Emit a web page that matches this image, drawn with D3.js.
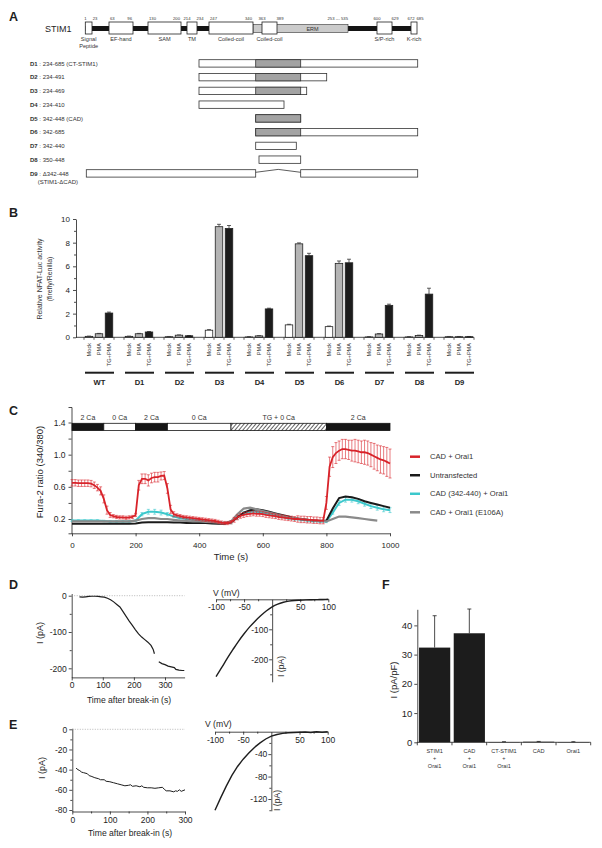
<!DOCTYPE html>
<html><head><meta charset="utf-8">
<script src="https://d3js.org/d3.v7.min.js"></script>
<style>html,body{margin:0;padding:0;background:#fff}</style>
</head><body>
<svg id="fig" width="602" height="848" xmlns="http://www.w3.org/2000/svg"></svg>
<script>
// ================= DATA =================
// Panel A – STIM1 domain map
const domainNames = ["Signal|Peptide","EF-hand","SAM","TM","Coiled-coil","Coiled-coil","S/P-rich","K-rich"];
const domainStart = [1,63,130,214,247,363,600,672];
const domainEnd   = [23,96,200,234,340,389,629,685];
const ermStart = 340, ermEnd = 535;
const ermName = "ERM", ermRangeLabel = "253 --- 535";
// Panel A – deletion constructs
const constructIds   = ["D1","D2","D3","D4","D5","D6","D7","D8","D9"];
const constructDesc  = ["234-685 (CT-STIM1)","234-491","234-469","234-410","342-448 (CAD)","342-685","342-440","350-448","\u0394342-448"];
const constructStart = [234,234,234,234,342,342,342,350,1];
const constructEnd   = [685,491,469,410,448,685,440,448,685];
const cadStart = 342, cadEnd = 448;

// Panel B – NFAT luciferase
const bGroups = ["WT","D1","D2","D3","D4","D5","D6","D7","D8","D9"];
const bConditions = ["Mock","PMA","TG+PMA"];
const bMock    = [0.08,0.08,0.05,0.60,0.03,1.05,0.90,0.03,0.03,0.05];
const bPMA     = [0.30,0.30,0.18,9.35,0.12,7.90,6.25,0.28,0.15,0.05];
const bTG      = [2.05,0.45,0.13,9.20,2.40,6.90,6.30,2.70,3.65,0.05];
const bMockErr = [0.02,0.02,0.02,0.05,0.02,0.05,0.05,0.02,0.02,0.02];
const bPMAErr  = [0.03,0.03,0.02,0.20,0.02,0.08,0.20,0.03,0.03,0.02];
const bTGErr   = [0.08,0.04,0.02,0.25,0.06,0.20,0.30,0.10,0.50,0.02];

// Panel C – Fura-2 traces
const cProtocol = [
  {label:"2 Ca", t0:0,   t1:100,  kind:"black"},
  {label:"0 Ca", t0:100, t1:200,  kind:"white"},
  {label:"2 Ca", t0:200, t1:300,  kind:"black"},
  {label:"0 Ca", t0:300, t1:500,  kind:"white"},
  {label:"TG + 0 Ca", t0:500, t1:800, kind:"hatch"},
  {label:"2 Ca", t0:800, t1:1000, kind:"black"}
];
const cTime10 = d3.range(0, 1001, 10);
const cTime20 = d3.range(0, 1001, 20);
const cRed = [0.65,0.65,0.645,0.645,0.645,0.645,0.64,
  0.62,0.59,0.55,0.45,
  0.31,0.25,
  0.235,0.225,0.22,0.22,0.215,0.22,0.225,0.25,
  0.62,0.70,
  0.70,0.68,0.71,0.72,0.72,0.735,0.74,
  0.58,0.32,0.26,
  0.245,0.235,0.225,0.22,0.215,0.21,0.205,0.20,0.195,0.19,0.185,0.18,0.175,0.165,0.155,0.15,0.15,0.16,
  0.19,0.22,0.24,0.25,0.26,0.265,0.27,0.265,0.265,0.26,
  0.25,0.245,0.24,0.235,0.225,0.22,0.215,0.21,0.205,0.20,
  0.20,0.195,0.195,0.19,0.19,0.185,0.185,0.18,0.18,
  0.40,0.85,0.97,1.02,1.05,1.07,1.07,1.06,1.05,1.05,1.04,1.03,1.03,1.02,1.00,0.98,0.96,0.94,0.93,0.91,0.89];
const cRedErr = [0.04,0.04,0.04,0.04,0.04,0.04,0.04,
  0.04,0.04,0.05,0.05,
  0.05,0.03,
  0.02,0.02,0.02,0.02,0.02,0.02,0.02,0.02,
  0.06,0.06,
  0.06,0.07,0.06,0.06,0.06,0.05,0.05,
  0.06,0.05,0.03,
  0.02,0.02,0.02,0.02,0.02,0.02,0.02,0.02,0.02,0.02,0.02,0.02,0.02,0.02,0.02,0.02,0.02,0.02,
  0.03,0.03,0.03,0.03,0.03,0.03,0.03,0.03,0.03,0.03,
  0.03,0.03,0.03,0.03,0.03,0.03,0.03,0.03,0.03,0.03,
  0.04,0.04,0.04,0.04,0.04,0.04,0.04,0.04,0.04,
  0.08,0.12,0.13,0.13,0.12,0.12,0.12,0.12,0.13,0.14,0.14,0.14,0.15,0.15,0.15,0.16,0.16,0.17,0.17,0.18,0.18];
const cBlack = [0.14,0.14,0.14,0.14,0.14,0.14,0.14,0.14,0.14,0.14,
  0.145,0.155,0.16,0.16,0.16,0.16,0.155,0.155,0.15,0.15,
  0.15,0.15,0.145,0.14,0.14,0.16,0.22,0.28,0.31,0.32,
  0.31,0.29,0.27,0.25,0.23,0.21,0.20,0.19,0.18,0.175,
  0.18,0.33,0.46,0.48,0.47,0.45,0.42,0.40,0.38,0.36,0.34];
const cCyan = [0.18,0.18,0.18,0.18,0.18,0.175,0.17,0.17,0.17,0.17,
  0.18,0.26,0.29,0.29,0.28,0.26,0.23,0.21,0.20,0.19,
  0.185,0.18,0.17,0.16,0.15,0.16,0.22,0.27,0.29,0.29,
  0.28,0.26,0.24,0.23,0.21,0.20,0.19,0.18,0.175,0.17,
  0.17,0.28,0.40,0.44,0.44,0.42,0.39,0.36,0.34,0.32,0.31];
const cCyanErr = [0.01,0.01,0.01,0.01,0.01,0.01,0.01,0.01,0.01,0.01,
  0.01,0.02,0.03,0.03,0.03,0.02,
  0.01,0.01,0.01,0.01,0.01,0.01,0.01,0.01,0.01,
  0.02,0.02,0.02,0.02,0.02,0.02,
  0.015,0.015,0.015,0.015,0.015,0.015,0.015,0.015,0.015,0.015,
  0.02,0.03,0.03,0.03,0.03,0.03,0.03,0.03,0.03,0.03];
const cGray = [0.17,0.17,0.17,0.17,0.17,0.17,0.17,0.17,0.17,0.17,
  0.18,0.20,0.21,0.21,0.20,0.20,0.19,0.18,0.175,0.17,
  0.17,0.165,0.16,0.155,0.15,0.17,0.26,0.33,0.34,0.32,
  0.30,0.28,0.26,0.24,0.22,0.21,0.20,0.19,0.18,0.175,
  0.17,0.20,0.23,0.23,0.22,0.21,0.20,0.19,0.18];
const cLegend = ["CAD + Orai1","Untransfected","CAD (342-440) + Orai1","CAD + Orai1 (E106A)"];

// Panel D
const dTimeA = [25,35,45,55,65,75,85,95,105,115,125,135,145,155,165,175,185,195,205,215,225,235,245,255,262,266];
const dCurrA = [-3,-4,-3,-2,-1.5,-1.5,-2,-3,-4,-7,-11,-17,-24,-31,-44,-57,-70,-82,-94,-105,-114,-121,-128,-137,-148,-160];
const dTimeB = [280,290,300,310,320,330,335,345,355,362];
const dCurrB = [-182,-187,-190,-194,-196,-198,-203,-205,-206,-206];
const ivVolt = [-100,-90,-80,-70,-60,-50,-40,-30,-20,-10,0,10,20,30,40,50,60,70,80,90,100];
const dIV = [-258,-228,-197,-168,-140,-115,-92,-72,-54,-38,-25,-16,-10,-6,-4,-3,-2,-1.5,-1,-0.5,0];
// Panel E
const eTime = [10,15,20,25,30,40,45,50,60,70,75,85,90,100,110,120,130,140,150,155,160,170,180,185,190,200,210,220,230,240,245,250,260,270,275,280,285,290,300];
const eCurr = [-38.5,-40,-41,-42.5,-43,-44,-46,-46.5,-48,-49,-50,-50,-51.5,-52,-53,-54,-55,-56,-55.5,-55,-56.5,-56,-57,-56,-57.5,-58,-58,-58.5,-58,-57.5,-59.5,-61,-61,-62,-61,-61.5,-60,-61.5,-60];
const eIV = [-140,-118,-97,-78,-62,-49,-38,-28,-20,-13,-8,-5,-3,-2,-1.5,-1,-0.5,-1.5,0,-1,0];

// Panel F
const fCats = ["STIM1|+|Orai1","CAD|+|Orai1","CT-STIM1|+|Orai1","CAD","Orai1"];
const fVals = [32.4,37.3,0.1,0.2,0.1];
const fErr  = [10.9,8.3,0.1,0.1,0.1];

// ================= DRAWING =================
const FONT = '"Liberation Sans", Arial, Helvetica, sans-serif';
const INK = "#1e1e1e";
const svg = d3.select("#fig").attr("font-family", FONT);
svg.append("rect").attr("width",602).attr("height",848).attr("fill","#fff");

const defs = svg.append("defs");
const pat = defs.append("pattern").attr("id","hatch").attr("patternUnits","userSpaceOnUse")
  .attr("width",3).attr("height",3).attr("patternTransform","rotate(40)");
pat.append("rect").attr("width",3).attr("height",3).attr("fill","#fff");
pat.append("line").attr("x1",0).attr("y1",0).attr("x2",0).attr("y2",3).attr("stroke","#111").attr("stroke-width",1.3);

function styleAxis(g, fs){
  g.attr("font-family", FONT).attr("font-size", fs);
  g.selectAll("path,line").attr("stroke", INK).attr("stroke-width", 0.8);
  g.selectAll("text").attr("fill", INK);
  return g;
}
function ext(scale, d0, d1){ return scale.copy().domain([d0,d1]).range([scale(d0), scale(d1)]); }
function panelLabel(t,x,y){ svg.append("text").attr("x",x).attr("y",y).attr("font-size",12.5).attr("font-weight","bold").attr("fill",INK).text(t); }
function fmt(d){ return String(d); }

// ---------- Panel A ----------
panelLabel("A", 9, 21);
svg.append("text").attr("x",45).attr("y",32).attr("font-size",9).attr("fill",INK).text("STIM1");
const topBreaks = Array.from(new Set([...domainStart, ...domainEnd, ermEnd])).sort((a,b)=>a-b);
const xTop = d3.scaleLinear().domain(topBreaks)
  .range([85.3,92,109,133,148,181,187,197,209,253,262,277,348,377,392,411,417]);
const gA = svg.append("g");
gA.append("rect").attr("x",xTop(1)).attr("y",26).attr("width",xTop(685)-xTop(1)).attr("height",5).attr("fill","#151515");
gA.append("rect").attr("x",xTop(ermStart)).attr("y",24.5).attr("width",xTop(ermEnd)-xTop(ermStart)).attr("height",8)
  .attr("fill","#cbcbcb").attr("stroke","#333").attr("stroke-width",0.6);
gA.append("text").attr("x",(xTop(389)+xTop(ermEnd))/2).attr("y",30.6).attr("text-anchor","middle").attr("font-size",5.5).attr("fill","#333").text(ermName);
gA.selectAll("rect.dom").data(domainNames).join("rect").attr("class","dom")
  .attr("x",(d,i)=>xTop(domainStart[i])).attr("y",22).attr("width",(d,i)=>xTop(domainEnd[i])-xTop(domainStart[i])).attr("height",12)
  .attr("fill","#fff").attr("stroke","#222").attr("stroke-width",0.8);
// numbers and names
const numFs = 4.2;
domainNames.forEach((d,i)=>{
  const xs = xTop(domainStart[i]), xe = xTop(domainEnd[i]);
  const narrow = (xe - xs) < 20;
  gA.append("text").attr("x", narrow ? xs : xs+1).attr("y",19.8).attr("text-anchor", narrow ? "middle" : "start")
    .attr("font-size",numFs).attr("fill","#333").text(domainStart[i]);
  gA.append("text").attr("x", narrow ? xe+3 : xe-1).attr("y",19.8).attr("text-anchor", narrow ? "middle" : "end")
    .attr("font-size",numFs).attr("fill","#333").text(domainEnd[i]);
  const lines = d.split("|");
  lines.forEach((ln,k)=>{
    gA.append("text").attr("x",(xs+xe)/2).attr("y",41+k*7.2).attr("text-anchor","middle")
      .attr("font-size",5.6).attr("fill","#333").text(ln);
  });
});
gA.append("text").attr("x",xTop(ermEnd)).attr("y",19.8).attr("text-anchor","end").attr("font-size",numFs).attr("fill","#333").text(ermRangeLabel);

// constructs
const xCon = d3.scaleLinear().domain([1,234,342,350,410,440,448,469,491,685])
  .range([86.3,199,255.7,259,284,296.3,300.7,306.7,326.7,417.7]);
const yRow = d3.scalePoint().domain(constructIds).range([59.7,169.7]);
const boxH = 7.4;
constructIds.forEach((id,i)=>{
  const y = yRow(id), s = constructStart[i], e = constructEnd[i];
  const t = gA.append("text").attr("x",30).attr("y",y+6).attr("font-size",6).attr("fill","#333");
  t.append("tspan").attr("font-weight","bold").text(id);
  t.append("tspan").text(" : " + constructDesc[i]);
  if (s < cadStart && e > cadEnd && id === "D9") {
    gA.append("rect").attr("x",xCon(s)).attr("y",y).attr("width",xCon(cadStart)-xCon(s)).attr("height",boxH)
      .attr("fill","#fff").attr("stroke","#333").attr("stroke-width",0.8);
    gA.append("rect").attr("x",xCon(cadEnd)).attr("y",y).attr("width",xCon(e)-xCon(cadEnd)).attr("height",boxH)
      .attr("fill","#fff").attr("stroke","#333").attr("stroke-width",0.8);
    gA.append("polyline").attr("points",[[xCon(cadStart),y+2.6],[(xCon(cadStart)+xCon(cadEnd))/2,y-0.3],[xCon(cadEnd),y+2.6]].map(p=>p.join(",")).join(" "))
      .attr("fill","none").attr("stroke","#333").attr("stroke-width",0.8);
    gA.append("text").attr("x",37.7).attr("y",y+14.4).attr("font-size",6).attr("fill","#333").text("(STIM1-\u0394CAD)");
  } else {
    gA.append("rect").attr("x",xCon(s)).attr("y",y).attr("width",xCon(e)-xCon(s)).attr("height",boxH)
      .attr("fill","#fff").attr("stroke","#333").attr("stroke-width",0.8);
    if (s <= cadStart && e >= cadEnd) {
      gA.append("rect").attr("x",xCon(cadStart)).attr("y",y).attr("width",xCon(cadEnd)-xCon(cadStart)).attr("height",boxH)
        .attr("fill","#a3a3a3").attr("stroke","#333").attr("stroke-width",0.8);
    }
  }
});

// ---------- Panel B ----------
panelLabel("B", 9, 217);
const yB = d3.scaleLinear().domain([0,10]).range([337.3,219]);
const xBg = d3.scaleBand().domain(bGroups).range([84,484]);
const xBi = d3.scaleBand().domain(bConditions).range([0,30]).paddingInner(0.25).paddingOuter(0.125);
const gB = svg.append("g");
styleAxis(gB.append("g").attr("transform","translate(76,0)")
  .call(d3.axisLeft(yB).tickValues([0,2,4,6,8,10]).tickFormat(fmt).tickSize(3).tickSizeOuter(0).tickPadding(3)), 8);
styleAxis(gB.append("g").attr("transform","translate(76,0)")
  .call(d3.axisLeft(yB).tickValues([1,3,5,7,9]).tickFormat("").tickSize(2)).call(g=>g.select(".domain").remove()), 8);
gB.append("line").attr("x1",76).attr("x2",474).attr("y1",yB(0)).attr("y2",yB(0)).attr("stroke",INK).attr("stroke-width",0.8);
const bSeries = [bMock,bPMA,bTG], bErrs = [bMockErr,bPMAErr,bTGErr], bFill = ["#ffffff","#b4b4b4","#1c1c1c"];
const bData = [];
bGroups.forEach((g,i)=>bConditions.forEach((c,j)=>bData.push({g,c,j,v:bSeries[j][i],e:bErrs[j][i]})));
bGroups.forEach(g=>{
  [0,10,20,30].forEach(k=>{
    const x = xBg(g)+k; gB.append("line").attr("x1",x).attr("x2",x).attr("y1",yB(0)).attr("y2",yB(0)+2.5).attr("stroke",INK).attr("stroke-width",0.7);
  });
});
gB.selectAll("line.err").data(bData).join("line").attr("class","err")
  .attr("x1",d=>xBg(d.g)+xBi(d.c)+xBi.bandwidth()/2).attr("x2",d=>xBg(d.g)+xBi(d.c)+xBi.bandwidth()/2)
  .attr("y1",d=>yB(d.v)).attr("y2",d=>yB(d.v+d.e)).attr("stroke",INK).attr("stroke-width",0.7);
gB.selectAll("line.cap").data(bData).join("line").attr("class","cap")
  .attr("x1",d=>xBg(d.g)+xBi(d.c)+xBi.bandwidth()/2-2).attr("x2",d=>xBg(d.g)+xBi(d.c)+xBi.bandwidth()/2+2)
  .attr("y1",d=>yB(d.v+d.e)).attr("y2",d=>yB(d.v+d.e)).attr("stroke",INK).attr("stroke-width",0.7);
gB.selectAll("rect.bar").data(bData).join("rect").attr("class","bar")
  .attr("x",d=>xBg(d.g)+xBi(d.c)).attr("width",xBi.bandwidth())
  .attr("y",d=>yB(d.v)).attr("height",d=>yB(0)-yB(d.v))
  .attr("fill",d=>bFill[d.j]).attr("stroke","#222").attr("stroke-width",0.8);
gB.selectAll("text.cond").data(bData).join("text").attr("class","cond")
  .attr("transform",d=>{const x=xBg(d.g)+xBi(d.c)+xBi.bandwidth()/2+2; return `translate(${x},343) rotate(-90)`;})
  .attr("text-anchor","end").attr("font-size",5.6).attr("fill","#333").text(d=>d.c);
bGroups.forEach(g=>{
  gB.append("line").attr("x1",xBg(g)+1).attr("x2",xBg(g)+30).attr("y1",372.7).attr("y2",372.7).attr("stroke",INK).attr("stroke-width",2);
  gB.append("text").attr("x",xBg(g)+15.5).attr("y",385).attr("text-anchor","middle").attr("font-size",7.6).attr("font-weight","bold").attr("fill",INK).text(g);
});
[["Relative NFAT-Luc activity",42],["(firefly/Renilla)",52]].forEach(([t,x])=>{
  gB.append("text").attr("transform",`translate(${x},279) rotate(-90)`).attr("text-anchor","middle").attr("font-size",7).attr("fill","#333").text(t);
});

// ---------- Panel C ----------
panelLabel("C", 9, 415);
const xC = d3.scaleLinear().domain([0,1000]).range([72,390]);
const yC = d3.scaleLinear().domain([0.2,1.4]).range([519,422.5]);
const gC = svg.append("g");
const yCax = ext(yC, yC.invert(533.3), yC.invert(407));
styleAxis(gC.append("g").attr("transform","translate(71.5,0)")
  .call(d3.axisLeft(yCax).tickValues([0.2,0.6,1.0,1.4]).tickFormat(d3.format(".1f")).tickSize(3).tickSizeOuter(3).tickPadding(3)), 8.5);
styleAxis(gC.append("g").attr("transform","translate(71.5,0)")
  .call(d3.axisLeft(yC).tickValues([0.4,0.8,1.2]).tickFormat("").tickSize(3)).call(g=>g.select(".domain").remove()), 8);
styleAxis(gC.append("g").attr("transform","translate(0,533.3)")
  .call(d3.axisBottom(xC).tickValues([0,200,400,600,800,1000]).tickFormat(fmt).tickSize(3).tickSizeOuter(0).tickPadding(6)), 8);
gC.append("text").attr("x",xC(500)).attr("y",560).attr("text-anchor","middle").attr("font-size",9.5).attr("fill",INK).text("Time (s)");
gC.append("text").attr("transform","translate(43,472) rotate(-90)").attr("text-anchor","middle").attr("font-size",9.5).attr("fill",INK).text("Fura-2 ratio (340/380)");
cProtocol.forEach(p=>{
  gC.append("rect").attr("x",xC(p.t0)).attr("y",423.3).attr("width",xC(p.t1)-xC(p.t0)).attr("height",7.3)
    .attr("fill",p.kind==="black"?"#151515":(p.kind==="hatch"?"url(#hatch)":"#fff")).attr("stroke","#151515").attr("stroke-width",0.8);
  gC.append("text").attr("x",(xC(p.t0)+xC(p.t1))/2).attr("y",420).attr("text-anchor","middle").attr("font-size",7).attr("fill","#333").text(p.label);
});
const cTrace = (ts, vs) => ts.slice(0, vs.length).map((t,i)=>[t, vs[i]]);
const lineC = d3.line().x(d=>xC(d[0])).y(d=>yC(d[1]));
function errBars(ts, vs, es, color, w){
  ts.slice(0, vs.length).forEach((t,i)=>{
    const x = xC(t), v = vs[i], e = es[i];
    gC.append("line").attr("x1",x).attr("x2",x).attr("y1",yC(v-e)).attr("y2",yC(v+e)).attr("stroke",color).attr("stroke-width",w);
    [v-e, v+e].forEach(q=>gC.append("line").attr("x1",x-1.5).attr("x2",x+1.5).attr("y1",yC(q)).attr("y2",yC(q)).attr("stroke",color).attr("stroke-width",w));
  });
}
const colRed = "#d8232a", colCyan = "#3cc8cc", colBlack = "#1a1a1a", colGray = "#8a8a8a";
errBars(cTime20, cCyan, cCyanErr, colCyan, 0.6);
gC.append("path").datum(cTrace(cTime20, cCyan)).attr("d",lineC).attr("fill","none").attr("stroke",colCyan).attr("stroke-width",2);
gC.append("path").datum(cTrace(cTime20, cBlack)).attr("d",lineC).attr("fill","none").attr("stroke",colBlack).attr("stroke-width",2);
gC.append("path").datum(cTrace(cTime20, cGray)).attr("d",lineC).attr("fill","none").attr("stroke",colGray).attr("stroke-width",2.2);
errBars(cTime10, cRed, cRedErr, colRed, 0.6);
gC.append("path").datum(cTrace(cTime10, cRed)).attr("d",lineC).attr("fill","none").attr("stroke",colRed).attr("stroke-width",1.8);
const legCols = [colRed, colBlack, colCyan, colGray];
const yLeg = d3.scalePoint().domain(cLegend).range([456.7,512.3]);
cLegend.forEach((t,i)=>{
  gC.append("line").attr("x1",410).attr("x2",420).attr("y1",yLeg(t)).attr("y2",yLeg(t)).attr("stroke",legCols[i]).attr("stroke-width",2.5);
  gC.append("text").attr("x",430).attr("y",yLeg(t)).attr("dy","0.35em").attr("font-size",7.6).attr("fill","#333").text(t);
});

// ---------- Panel D ----------
panelLabel("D", 9, 589);
const gD = svg.append("g");
const xDL = d3.scaleLinear().domain([0,300]).range([71.7,165]);
const yDL = d3.scaleLinear().domain([0,-200]).range([595.7,668.3]);
styleAxis(gD.append("g").attr("transform",`translate(${xDL(0)},0)`)
  .call(d3.axisLeft(ext(yDL,6,-225)).tickValues([0,-100,-200]).tickFormat(fmt).tickSize(3).tickSizeOuter(0).tickPadding(2)), 8.5);
styleAxis(gD.append("g").attr("transform",`translate(${xDL(0)},0)`)
  .call(d3.axisLeft(yDL).tickValues([-50,-150]).tickFormat("").tickSize(2)).call(g=>g.select(".domain").remove()), 8);
styleAxis(gD.append("g").attr("transform",`translate(0,${yDL(-225)})`)
  .call(d3.axisBottom(ext(xDL,0,363)).tickValues([0,100,200,300]).tickFormat(fmt).tickSize(3).tickSizeOuter(0).tickPadding(2)), 8.5);
gD.append("line").attr("x1",xDL(0)).attr("x2",xDL(363)).attr("y1",yDL(0)).attr("y2",yDL(0)).attr("stroke","#999").attr("stroke-width",0.7).attr("stroke-dasharray","1,1.5");
const lineDL = d3.line().x(d=>xDL(d[0])).y(d=>yDL(d[1]));
gD.append("path").datum(dTimeA.map((t,i)=>[t,dCurrA[i]])).attr("d",lineDL).attr("fill","none").attr("stroke",INK).attr("stroke-width",1.2);
gD.append("path").datum(dTimeB.map((t,i)=>[t,dCurrB[i]])).attr("d",lineDL).attr("fill","none").attr("stroke",INK).attr("stroke-width",1.2);
gD.append("text").attr("transform","translate(43,633) rotate(-90)").attr("text-anchor","middle").attr("font-size",9).attr("fill",INK).text("I (pA)");
gD.append("text").attr("x",129).attr("y",702.5).attr("text-anchor","middle").attr("font-size",8.6).attr("fill",INK).text("Time after break-in (s)");
const xDR = d3.scaleLinear().domain([-100,100]).range([216,328.3]);
const yDR = d3.scaleLinear().domain([0,-200]).range([599.3,659.3]);
styleAxis(gD.append("g").attr("transform",`translate(0,${yDR(0)})`)
  .call(d3.axisBottom(xDR).tickValues([-100,-50,50,100]).tickFormat(fmt).tickSize(3).tickSizeOuter(0).tickPadding(2)), 8.5);
styleAxis(gD.append("g").attr("transform",`translate(0,${yDR(0)})`)
  .call(d3.axisBottom(xDR).tickValues([-75,-25,25,75]).tickFormat("").tickSize(2)).call(g=>g.select(".domain").remove()), 8);
styleAxis(gD.append("g").attr("transform",`translate(${xDR(0)},0)`)
  .call(d3.axisLeft(ext(yDR,0,-275)).tickValues([-100,-200]).tickFormat(fmt).tickSize(3).tickSizeOuter(0).tickPadding(1)), 8.5);
styleAxis(gD.append("g").attr("transform",`translate(${xDR(0)},0)`)
  .call(d3.axisLeft(yDR).tickValues([-50,-150,-250]).tickFormat("").tickSize(2)).call(g=>g.select(".domain").remove()), 8);
gD.append("text").attr("x",213).attr("y",596).attr("font-size",8.6).attr("fill",INK).text("V (mV)");
gD.append("text").attr("transform",`translate(${xDR(0)+11.5},677) rotate(-90)`).attr("font-size",8.6).attr("fill",INK).text("I (pA)");
const lineDR = d3.line().x(d=>xDR(d[0])).y(d=>yDR(d[1])).curve(d3.curveMonotoneX);
gD.append("path").datum(ivVolt.map((v,i)=>[v,dIV[i]])).attr("d",lineDR).attr("fill","none").attr("stroke",INK).attr("stroke-width",1.4);

// ---------- Panel E ----------
panelLabel("E", 9, 729);
const gE = svg.append("g");
const xEL = d3.scaleLinear().domain([0,300]).range([72.3,185]);
const yEL = d3.scaleLinear().domain([0,-80]).range([729.3,810]);
styleAxis(gE.append("g").attr("transform",`translate(${xEL(0)},0)`)
  .call(d3.axisLeft(ext(yEL,1,-81.5)).tickValues([0,-20,-40,-60,-80]).tickFormat(fmt).tickSize(3).tickSizeOuter(0).tickPadding(2)), 8.5);
styleAxis(gE.append("g").attr("transform",`translate(${xEL(0)},0)`)
  .call(d3.axisLeft(yEL).tickValues([-10,-30,-50,-70]).tickFormat("").tickSize(2)).call(g=>g.select(".domain").remove()), 8);
styleAxis(gE.append("g").attr("transform",`translate(0,${yEL(-81.5)})`)
  .call(d3.axisBottom(xEL).tickValues([0,100,200,300]).tickFormat(fmt).tickSize(3).tickSizeOuter(0).tickPadding(2)), 8.5);
styleAxis(gE.append("g").attr("transform",`translate(0,${yEL(-81.5)})`)
  .call(d3.axisBottom(xEL).tickValues([50,150,250]).tickFormat("").tickSize(2)).call(g=>g.select(".domain").remove()), 8);
gE.append("line").attr("x1",xEL(0)).attr("x2",xEL(300)).attr("y1",yEL(0)).attr("y2",yEL(0)).attr("stroke","#999").attr("stroke-width",0.7).attr("stroke-dasharray","1,1.5");
const lineEL = d3.line().x(d=>xEL(d[0])).y(d=>yEL(d[1]));
gE.append("path").datum(eTime.map((t,i)=>[t,eCurr[i]])).attr("d",lineEL).attr("fill","none").attr("stroke",INK).attr("stroke-width",1);
gE.append("text").attr("transform","translate(45,768) rotate(-90)").attr("text-anchor","middle").attr("font-size",9).attr("fill",INK).text("I (pA)");
gE.append("text").attr("x",130).attr("y",836).attr("text-anchor","middle").attr("font-size",8.6).attr("fill",INK).text("Time after break-in (s)");
const xER = d3.scaleLinear().domain([-100,100]).range([215,327.7]);
const yER = d3.scaleLinear().domain([0,-120]).range([731.7,799]);
styleAxis(gE.append("g").attr("transform",`translate(0,${yER(0)})`)
  .call(d3.axisBottom(xER).tickValues([-100,-50,50,100]).tickFormat(fmt).tickSize(3).tickSizeOuter(0).tickPadding(2)), 8.5);
styleAxis(gE.append("g").attr("transform",`translate(0,${yER(0)})`)
  .call(d3.axisBottom(xER).tickValues([-75,-25,25,75]).tickFormat("").tickSize(2)).call(g=>g.select(".domain").remove()), 8);
styleAxis(gE.append("g").attr("transform",`translate(${xER(0)},0)`)
  .call(d3.axisLeft(ext(yER,0,-141)).tickValues([-40,-80,-120]).tickFormat(fmt).tickSize(3).tickSizeOuter(0).tickPadding(1)), 8.5);
styleAxis(gE.append("g").attr("transform",`translate(${xER(0)},0)`)
  .call(d3.axisLeft(yER).tickValues([-20,-60,-100,-140]).tickFormat("").tickSize(2)).call(g=>g.select(".domain").remove()), 8);
gE.append("text").attr("x",205).attr("y",727).attr("font-size",8.6).attr("fill",INK).text("V (mV)");
gE.append("text").attr("transform",`translate(${xER(0)+8.5},811) rotate(-90)`).attr("font-size",8.6).attr("fill",INK).text("I (pA)");
const lineER = d3.line().x(d=>xER(d[0])).y(d=>yER(d[1]));
gE.append("path").datum(ivVolt.map((v,i)=>[v,eIV[i]])).attr("d",lineER).attr("fill","none").attr("stroke",INK).attr("stroke-width",1.4);

// ---------- Panel F ----------
panelLabel("F", 382, 589);
const gF = svg.append("g");
const yF = d3.scaleLinear().domain([0,45.5]).range([742.3,609.3]);
const xF = d3.scaleBand().domain(fCats).range([417.3,590.7]).paddingInner(0.1).paddingOuter(0.05);
styleAxis(gF.append("g").attr("transform","translate(417.3,0)")
  .call(d3.axisLeft(yF).tickValues([0,10,20,30,40]).tickFormat(fmt).tickSize(3).tickSizeOuter(0).tickPadding(2)), 9.5);
gF.append("line").attr("x1",417.3).attr("x2",590.7).attr("y1",yF(0)).attr("y2",yF(0)).attr("stroke",INK).attr("stroke-width",0.8);
d3.range(fCats.length+1).forEach(k=>{
  const x = 417.3 + k*xF.step();
  gF.append("line").attr("x1",x).attr("x2",x).attr("y1",yF(0)).attr("y2",yF(0)+3).attr("stroke",INK).attr("stroke-width",0.8);
});
fCats.forEach((c,i)=>{
  const cx = xF(c)+xF.bandwidth()/2;
  gF.append("line").attr("x1",cx).attr("x2",cx).attr("y1",yF(fVals[i])).attr("y2",yF(fVals[i]+fErr[i])).attr("stroke",INK).attr("stroke-width",0.8);
  gF.append("line").attr("x1",cx-2).attr("x2",cx+2).attr("y1",yF(fVals[i]+fErr[i])).attr("y2",yF(fVals[i]+fErr[i])).attr("stroke",INK).attr("stroke-width",0.8);
  gF.append("rect").attr("x",xF(c)).attr("width",xF.bandwidth()).attr("y",yF(fVals[i])).attr("height",yF(0)-yF(fVals[i])).attr("fill","#1c1c1c");
  c.split("|").forEach((ln,k)=>{
    gF.append("text").attr("x",cx).attr("y",752.5+k*7.5).attr("text-anchor","middle").attr("font-size",5.6).attr("fill","#333").text(ln);
  });
});
gF.append("text").attr("transform","translate(397,680) rotate(-90)").attr("text-anchor","middle").attr("font-size",9.5).attr("fill",INK).text("I (pA/pF)");
</script>
</body></html>
